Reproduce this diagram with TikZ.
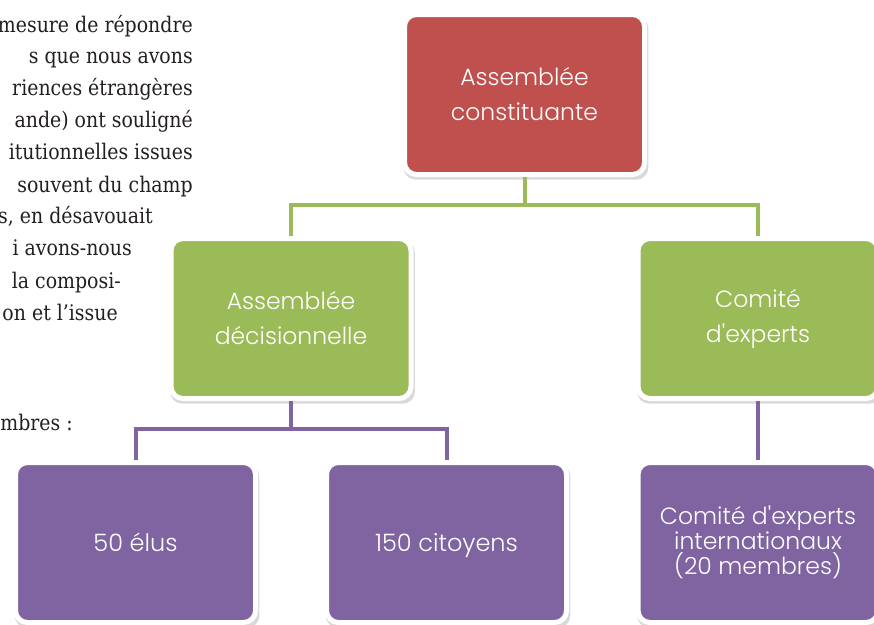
\documentclass[tikz,border=0pt]{standalone}
\usepackage{fontspec}
\newfontfamily\parafont{DejaVu Serif}[FakeStretch=0.88]
\newfontfamily\boxfont{Poppins}[UprightFont=* Light]
\usetikzlibrary{shadows,backgrounds}
\definecolor{rouge}{HTML}{C0504D}
\definecolor{vert}{HTML}{9BBB59}
\definecolor{violet}{HTML}{8064A2}
\definecolor{encre}{HTML}{231F20}
\tikzset{
	bloc/.style={rectangle, rounded corners=12pt, draw=white, line width=5pt,
		minimum width=240pt, minimum height=160pt, inner sep=0pt, outer sep=2.5pt,
		align=center, text=white, font=\boxfont\fontsize{23.5}{35}\selectfont,
		drop shadow={shadow xshift=1.5pt, shadow yshift=-3.5pt, shadow scale=1.02, opacity=0.3}},
	petitbloc/.style={font=\boxfont\fontsize{23.5}{25}\selectfont},
	unebloc/.style={font=\boxfont\fontsize{24}{26}\selectfont, text depth=1pt},
	ligne/.style={anchor=base east, inner sep=0pt, text=encre,
		font=\parafont\fontsize{21.5}{25}\selectfont},
}

\begin{document}
\begin{tikzpicture}[
	x=1pt, y=-1pt,
	level distance=224pt,
	edge from parent path={(\tikzparentnode.south) -- ++(0pt,-27.5pt) -| (\tikzchildnode.north)},
	level 1/.style={sibling distance=467pt, edge from parent/.style={draw=vert, line width=4pt}},
	level 2/.style={sibling distance=311pt, edge from parent/.style={draw=violet, line width=4pt}}
	]
	\useasboundingbox (0,0) rectangle (874,624);
	\clip (0,0) rectangle (874,624);

	% bout de texte courant, coupe a gauche
	\foreach \ly/\lx/\ltxt [count=\i] in {
		32/193/{mesure de répondre},
		63/193/{s que nous avons},
		95/193/{riences étrangères},
		127/193/{ande) ont souligné},
		159/193/{itutionnelles issues},
		192/193/{souvent du champ},
		223/153/{s, en désavouait},
		255/132/{i avons-nous},
		288/121/{la composi-},
		320/118/{on et l’issue},
		430/73/{mbres :}}
		\node[ligne] (ligne\i) at (\lx,\ly) {\ltxt};

	% organigramme
	\node[bloc, fill=rouge] (constit) at (524.5,94.5) {Assemblée\\constituante}
	child {
			node[bloc, fill=vert] (decis) {Assemblée\\décisionnelle}
			child {
					node[bloc, unebloc, fill=violet] (elus) {50 élus}
				}
			child {
					node[bloc, unebloc, fill=violet] (citoyens) {150 citoyens}
				}
		}
	child {
			node[bloc, fill=vert] (experts) {Comité\\d'experts}
			child {
					node[bloc, petitbloc, fill=violet] (intl) {Comité d'experts\\internationaux\\(20 membres)}
				}
		};
\end{tikzpicture}
\end{document}
